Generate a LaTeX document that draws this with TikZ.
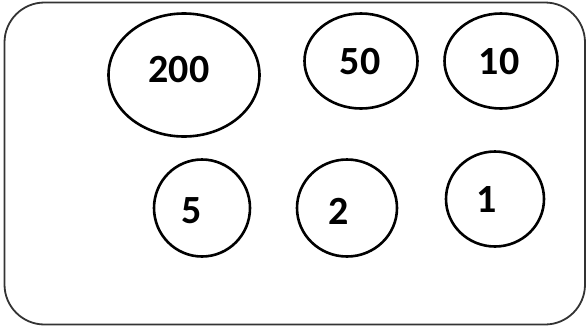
\documentclass[tikz,border=0pt]{standalone}
\usepackage{fontspec}
\setmainfont{Carlito}
\usetikzlibrary{shapes.geometric}
\begin{document}
\begin{tikzpicture}[x=1pt,y=-1pt,
  coin/.style={draw=black,line width=2.6pt,ellipse,inner sep=0pt},
  val/.style={font=\fontsize{40}{42}\selectfont\bfseries,inner sep=0pt,anchor=center},
  frame/.style={draw=black!80,line width=1.8pt,rounded corners=40pt}]
\useasboundingbox (0,0) rectangle (588,327);
\draw[frame] (4.5,2.5) rectangle (585,324.5);
\node[coin,minimum width=151pt,minimum height=123pt] (c200) at (184,75) {};
\node[coin,minimum width=113pt,minimum height=95pt] (c50) at (361,61) {};
\node[coin,minimum width=113pt,minimum height=95pt] (c10) at (501,61) {};
\node[coin,minimum width=96pt,minimum height=97pt] (c5) at (202,208) {};
\node[coin,minimum width=100pt,minimum height=97pt] (c2) at (347,208) {};
\node[coin,minimum width=98pt,minimum height=95pt] (c1) at (495,199) {};
\node[val] (t200) at (179,70) {200};
\node[val] (t50) at (360,62) {50};
\node[val] (t10) at (499,62) {10};
\node[val] (t5) at (192,211) {5};
\node[val] (t2) at (339,211) {2};
\node[val] (t1) at (487,200) {1};
\end{tikzpicture}
\end{document}
